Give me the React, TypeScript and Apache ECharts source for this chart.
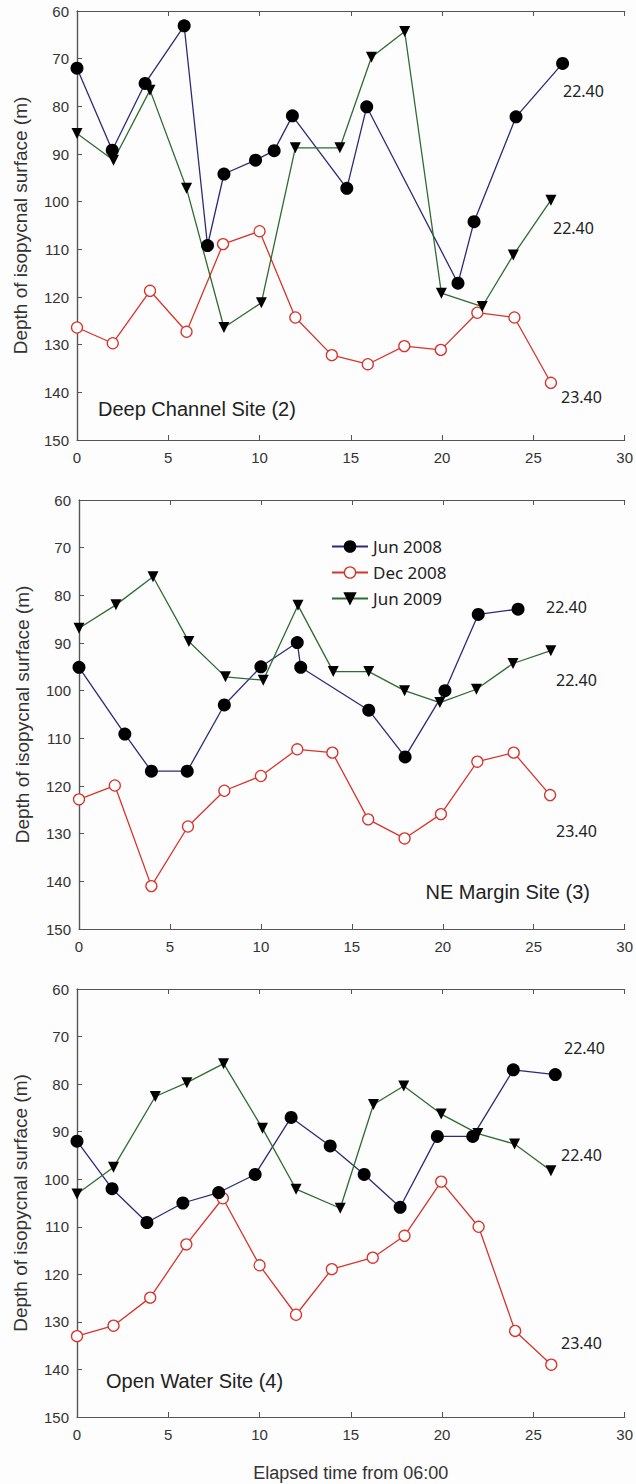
import React, { useEffect, useRef } from "react";
import * as echarts from "echarts";

// ---- Deep Channel Site (2) ----
const dcJun08X = [0, 1.93, 3.73, 5.87, 7.15, 8.05, 9.78, 10.8, 11.8, 14.78, 15.87, 20.87, 21.75, 24.05, 26.6];
const dcJun08Y = [72, 89.2, 75.2, 63.1, 109.2, 94.2, 91.3, 89.3, 82.0, 97.2, 80.1, 117.1, 104.2, 82.2, 71.0];
const dcDec08X = [0, 1.96, 4.0, 6.0, 8.0, 10.0, 11.96, 13.96, 15.93, 17.93, 19.93, 21.93, 23.96, 25.96];
const dcDec08Y = [126.4, 129.7, 118.7, 127.3, 108.9, 106.2, 124.3, 132.2, 134.1, 130.3, 131.1, 123.3, 124.3, 138.0];
const dcJun09X = [0, 2.0, 4.0, 6.0, 8.05, 10.1, 11.96, 14.4, 16.13, 17.95, 19.96, 22.2, 23.9, 25.96];
const dcJun09Y = [85.7, 91.3, 76.6, 97.2, 126.4, 121.2, 88.7, 88.7, 69.7, 64.3, 119.2, 122.0, 111.2, 99.7];

// ---- NE Margin Site (3) ----
const neJun08X = [0, 2.52, 3.98, 5.95, 7.99, 10.0, 12.0, 12.19, 15.93, 17.93, 20.12, 21.95, 24.14];
const neJun08Y = [95.1, 109.1, 116.9, 116.9, 103.0, 95.0, 89.9, 95.1, 104.1, 113.9, 100.0, 84.0, 82.9];
const neDec08X = [0, 1.97, 3.98, 5.99, 7.99, 10.0, 12.0, 13.93, 15.9, 17.9, 19.9, 21.9, 23.9, 25.9];
const neDec08Y = [122.8, 119.9, 141.0, 128.5, 121.0, 117.9, 112.3, 113.0, 127.0, 131.0, 125.9, 114.9, 113.0, 121.9];
const neJun09X = [0, 2.03, 4.07, 6.04, 8.05, 10.13, 12.04, 13.98, 15.93, 17.9, 19.84, 21.85, 23.86, 25.94];
const neJun09Y = [86.9, 82.0, 76.1, 89.7, 97.1, 97.8, 82.1, 96.0, 96.0, 100.0, 102.5, 99.7, 94.3, 91.6];

// ---- Open Water Site (4) ----
const owJun08X = [0, 1.92, 3.83, 5.8, 7.76, 9.76, 11.73, 13.87, 15.73, 17.7, 19.74, 21.68, 23.9, 26.2];
const owJun08Y = [92.0, 102.0, 109.1, 105.0, 102.8, 99.0, 87.0, 93.0, 99.0, 105.9, 91.0, 91.0, 77.0, 78.0];
const owDec08X = [0, 2.0, 4.01, 5.99, 7.99, 10.0, 12.0, 13.96, 16.2, 17.94, 19.95, 22.0, 24.0, 25.98];
const owDec08Y = [133.0, 130.8, 124.9, 113.7, 104.0, 118.1, 128.5, 118.9, 116.5, 111.9, 100.5, 110.0, 131.9, 139.0];
const owJun09X = [0, 2.0, 4.29, 6.02, 8.03, 10.16, 12.0, 14.42, 16.24, 17.9, 19.95, 21.96, 23.97, 25.96];
const owJun09Y = [103.1, 97.5, 82.6, 79.7, 75.7, 89.3, 102.1, 106.1, 84.3, 80.4, 86.3, 90.4, 92.6, 98.2];

const seriesNames = ["Jun 2008", "Dec 2008", "Jun 2009"];
const xTicks = { min: 0, max: 30, interval: 5 };
const yTicks = { min: 60, max: 150, interval: 10 };
const siteNames = ["Deep Channel Site (2)", "NE Margin Site (3)", "Open Water Site (4)"];
const contourLabels = ["22.40", "22.40", "23.40"];
const yTitle = "Depth of isopycnal surface (m)";
const xTitle = "Elapsed time from 06:00";

const zip = (xs: number[], ys: number[]) => xs.map((x, i) => [x, ys[i]]);

const panels = [
  [zip(dcJun08X, dcJun08Y), zip(dcDec08X, dcDec08Y), zip(dcJun09X, dcJun09Y)],
  [zip(neJun08X, neJun08Y), zip(neDec08X, neDec08Y), zip(neJun09X, neJun09Y)],
  [zip(owJun08X, owJun08Y), zip(owDec08X, owDec08Y), zip(owJun09X, owJun09Y)],
];

const grids = [
  { left: 77, top: 11, width: 548, height: 429 },
  { left: 79, top: 500, width: 547, height: 429 },
  { left: 77, top: 989, width: 548, height: 428 },
];

const AXIS_COLOR = "#555";
const TICK_FONT = "'Liberation Sans', Arial, sans-serif";
const NOTE_FONT = "'Noto Sans', sans-serif";

const styles = [
  { line: "#2a2a78", symbol: "circle", size: 13, fill: "#000", border: "#000" },
  { line: "#d8342c", symbol: "circle", size: 11, fill: "#fff", border: "#d8342c" },
  { line: "#2f6b2f", symbol: "triangle", size: 11, fill: "#000", border: "#000" },
];

const labelPos = [
  [[563, 91], [553, 228], [561, 397]],
  [[546, 607], [556, 680], [556, 831]],
  [[564, 1048], [561, 1155], [561, 1343]],
];

export default function App() {
  const ref = useRef<HTMLDivElement>(null);
  useEffect(() => {
    if (!ref.current) return;
    const chart = echarts.init(ref.current, undefined, { renderer: "svg" });

    const xAxis: any[] = [];
    const yAxis: any[] = [];
    const series: any[] = [];
    const graphic: any[] = [];

    grids.forEach((g, gi) => {
      xAxis.push({
        type: "value",
        gridIndex: gi,
        position: "bottom",
        ...xTicks,
        axisLine: { show: true, lineStyle: { color: AXIS_COLOR, width: 1.2 } },
        axisTick: { show: true, inside: true, length: 5, lineStyle: { color: AXIS_COLOR } },
        axisLabel: { color: "#333", fontSize: 15, fontFamily: TICK_FONT, margin: 10 },
        splitLine: { show: false },
        name: gi === 2 ? xTitle : "",
        nameLocation: "middle",
        nameGap: 47,
        nameTextStyle: { color: "#333", fontSize: 18, fontFamily: TICK_FONT },
      });
      xAxis.push({
        type: "value",
        gridIndex: gi,
        position: "top",
        ...xTicks,
        axisLine: { show: true, lineStyle: { color: AXIS_COLOR, width: 1.2 } },
        axisTick: { show: true, inside: true, length: 5, lineStyle: { color: AXIS_COLOR } },
        axisLabel: { show: false },
        splitLine: { show: false },
      });
      yAxis.push({
        type: "value",
        gridIndex: gi,
        inverse: true,
        ...yTicks,
        axisLine: { show: true, lineStyle: { color: AXIS_COLOR, width: 1.2 } },
        axisTick: { show: true, inside: true, length: 5, lineStyle: { color: AXIS_COLOR } },
        axisLabel: { color: "#333", fontSize: 15, fontFamily: TICK_FONT, margin: 8 },
        splitLine: { show: false },
        name: yTitle,
        nameLocation: "middle",
        nameGap: 47,
        nameTextStyle: { color: "#333", fontSize: 19, fontFamily: TICK_FONT },
      });
      yAxis.push({
        type: "value",
        gridIndex: gi,
        position: "right",
        inverse: true,
        ...yTicks,
        axisLine: { show: true, lineStyle: { color: AXIS_COLOR, width: 1.2 } },
        axisTick: { show: false },
        axisLabel: { show: false },
        splitLine: { show: false },
      });

      panels[gi].forEach((data, si) => {
        const st = styles[si];
        series.push({
          name: seriesNames[si],
          type: "line",
          xAxisIndex: gi * 2,
          yAxisIndex: gi * 2,
          data,
          symbol: st.symbol,
          symbolSize: st.size,
          symbolRotate: st.symbol === "triangle" ? 180 : 0,
          showAllSymbol: true,
          lineStyle: { color: st.line, width: 1.3 },
          itemStyle: { color: st.fill, borderColor: st.border, borderWidth: si === 1 ? 1.3 : 0 },
          z: si === 1 ? 2 : 3,
        });
      });

      labelPos[gi].forEach((p, li) => {
        graphic.push({
          type: "text",
          x: p[0],
          y: p[1],
          style: {
            text: contourLabels[li],
            fill: "#222",
            font: `16px ${NOTE_FONT}`,
            textVerticalAlign: "middle",
            verticalAlign: "middle",
          },
        });
      });
    });

    graphic.push(
      { type: "text", x: 98, y: 409, style: { text: siteNames[0], fill: "#222", font: `20px ${TICK_FONT}`, verticalAlign: "middle", textVerticalAlign: "middle" } },
      { type: "text", x: 590, y: 892, style: { text: siteNames[1], fill: "#222", font: `20px ${TICK_FONT}`, align: "right", textAlign: "right", verticalAlign: "middle", textVerticalAlign: "middle" } },
      { type: "text", x: 106, y: 1381, style: { text: siteNames[2], fill: "#222", font: `20px ${TICK_FONT}`, verticalAlign: "middle", textVerticalAlign: "middle" } }
    );

    chart.setOption({
      animation: false,
      backgroundColor: "#fdfdfd",
      grid: grids.map((g) => ({ ...g, containLabel: false })),
      xAxis,
      yAxis,
      series,
      legend: {
        data: seriesNames,
        orient: "vertical",
        left: 326,
        top: 533,
        itemWidth: 36,
        itemHeight: 14,
        itemGap: 9,
        itemStyle: { borderWidth: 1.3 },
        textStyle: { color: "#222", fontSize: 17, fontFamily: NOTE_FONT },
        selectedMode: false,
      },
      graphic,
    });
    return () => chart.dispose();
  }, []);

  return (
    <div
      ref={ref}
      style={{ position: "absolute", left: 0, top: 0, width: 636, height: 1484 }}
    />
  );
}
